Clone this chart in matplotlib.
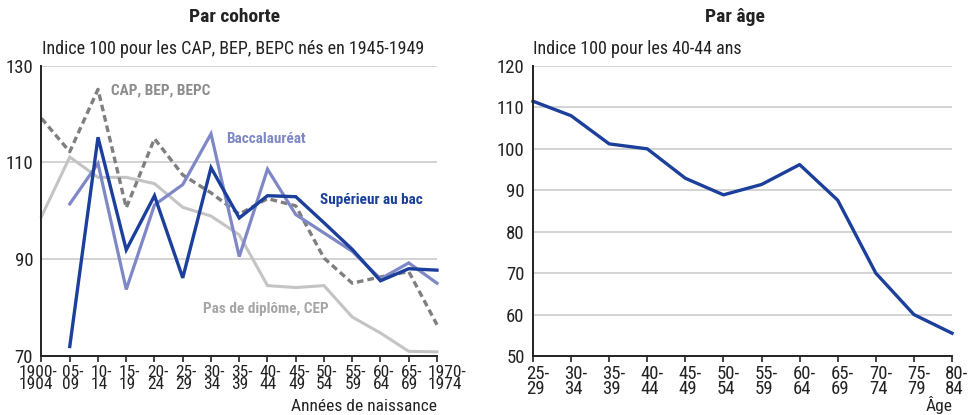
import matplotlib
matplotlib.use("Agg")
import matplotlib.pyplot as plt
from matplotlib import font_manager
import matplotlib.transforms as mtransforms

names = {f.name for f in font_manager.fontManager.ttflist}
FONT = "Liberation Sans"
for cand in ["Liberation Sans Narrow", "Arial Narrow", "Roboto Condensed", "PT Sans Narrow",
             "Archivo Narrow", "Pragati Narrow", "Barlow Semi Condensed", "Asap Condensed"]:
    if cand in names:
        FONT = cand
        break
plt.rcParams['font.family'] = [FONT, 'DejaVu Sans']

# ---------------- data ----------------
cohort_labels = ["1900-\n1904", "05-\n09", "10-\n14", "15-\n19", "20-\n24", "25-\n29",
                 "30-\n34", "35-\n39", "40-\n44", "45-\n49", "50-\n54", "55-\n59",
                 "60-\n64", "65-\n69", "1970-\n1974"]
cap_bep = [119.1, 112.2, 125.1, 100.6, 114.9, 107.4, 103.7, 99.3, 102.5, 101.0,
           90.2, 85.0, 86.3, 87.4, 76.4]
superieur = [None, 71.9, 115.2, 91.9, 103.1, 86.1, 108.9, 98.5, 103.1, 102.9,
             97.5, 92.0, 85.5, 88.0, 87.7]
bac = [None, 101.4, 109.8, 83.7, 101.2, 105.4, 115.9, 90.5, 108.6, 99.2,
       95.4, 91.6, 85.9, 89.2, 85.0]
sans_diplome = [98.8, 111.1, 106.9, 106.9, 105.6, 100.7, 98.9, 95.0, 84.5, 84.1,
                84.5, 78.0, 74.7, 70.9, 70.8]

age_labels = ["25-\n29", "30-\n34", "35-\n39", "40-\n44", "45-\n49", "50-\n54",
              "55-\n59", "60-\n64", "65-\n69", "70-\n74", "75-\n79", "80-\n84"]
age_values = [111.5, 108.0, 101.2, 100.0, 92.9, 88.9, 91.4, 96.2, 87.6, 70.0, 60.0, 55.5]

left_yticks = [70, 90, 110, 130]
right_yticks = [50, 60, 70, 80, 90, 100, 110, 120]

# ---------------- style ----------------
DARK_BLUE = "#1b3f9a"
PURPLE = "#7f88c6"
DASH_GRAY = "#7f7f7f"
LIGHT_GRAY = "#c4c4c4"
TXT = "#222222"
GRID = "#c8c8c8"

W, H = 970, 415
fig = plt.figure(figsize=(W / 100, H / 100), dpi=100)

def frac_box(x0, x1, ytop, ybot):
    return [x0 / W, 1 - ybot / H, (x1 - x0) / W, (ybot - ytop) / H]

axL = fig.add_axes(frac_box(41.5, 437, 65.7, 355.7))
axR = fig.add_axes(frac_box(533, 952, 66, 356))

def style(ax, yticks, xlabels, offsets, fs):
    ax.set_yticks(yticks)
    ax.set_ylim(yticks[0], yticks[-1])
    ax.set_xlim(0, len(xlabels) - 1)
    ax.set_xticks(range(len(xlabels)))
    ax.set_xticklabels([""] * len(xlabels))
    base = mtransforms.blended_transform_factory(ax.transData, ax.transAxes)
    for i, (lab, dx) in enumerate(zip(xlabels, offsets)):
        off = mtransforms.ScaledTranslation(dx / 100, -9 / 100, fig.dpi_scale_trans)
        ax.text(i, 0, lab, transform=base + off, ha='center', va='top',
                multialignment='left', fontsize=fs, color=TXT, linespacing=0.8)
    ax.tick_params(axis='x', direction='out', length=4, width=1.2, color=TXT, pad=2)
    ax.tick_params(axis='y', length=0, labelsize=13.5, labelcolor=TXT, pad=6)
    for s in ['top', 'right']:
        ax.spines[s].set_visible(False)
    for s in ['left', 'bottom']:
        ax.spines[s].set_color(TXT)
        ax.spines[s].set_linewidth(1.4)
        ax.spines[s].set_zorder(5)
    ax.grid(axis='y', color=GRID, linewidth=1.1)
    ax.set_axisbelow(True)
    ax.patch.set_alpha(0)

x = list(range(len(cohort_labels)))

def seg(vals):
    xs = [i for i, v in zip(x, vals) if v is not None]
    ys = [v for v in vals if v is not None]
    return xs, ys

axL.plot(*seg(sans_diplome), color=LIGHT_GRAY, lw=2.2, solid_joinstyle='miter', zorder=2, clip_on=False)
axL.plot(*seg(cap_bep), color=DASH_GRAY, lw=2.4, linestyle=(0, (2.0, 1.2)), zorder=3, clip_on=False)
axL.plot(*seg(bac), color=PURPLE, lw=2.3, solid_joinstyle='miter', zorder=4, clip_on=False)
axL.plot(*seg(superieur), color=DARK_BLUE, lw=2.4, solid_joinstyle='miter', zorder=5, clip_on=False)

left_offsets = [-3] + [3] * 13 + [10]
style(axL, left_yticks, cohort_labels, left_offsets, 12.5)

axR.plot(range(len(age_labels)), age_values, color=DARK_BLUE, lw=2.4, zorder=4, clip_on=False)
style(axR, right_yticks, age_labels, [5] * 12, 13.5)

# in-chart labels (pixel coordinates converted to figure fraction)
def ftext(px, py, s, **kw):
    fig.text(px / W, 1 - py / H, s, **kw)

ftext(111, 91, "CAP, BEP, BEPC", color="#8c8c8c", fontsize=11, fontweight='bold', va='center')
ftext(226, 139, "Baccalauréat", color=PURPLE, fontsize=11, fontweight='bold', va='center')
ftext(320, 200, "Supérieur au bac", color=DARK_BLUE, fontsize=11, fontweight='bold', va='center')
ftext(203, 309, "Pas de diplôme, CEP", color="#a6a6a6", fontsize=11, fontweight='bold', va='center')

# titles
ftext(235, 17, "Par cohorte", color=TXT, fontsize=14, fontweight='bold', ha='center', va='center')
ftext(735, 17, "Par âge", color=TXT, fontsize=14, fontweight='bold', ha='center', va='center')
ftext(42, 49, "Indice 100 pour les CAP, BEP, BEPC nés en 1945-1949", color=TXT, fontsize=13, va='center')
ftext(533, 49, "Indice 100 pour les 40-44 ans", color=TXT, fontsize=13, va='center')

# axis captions
ftext(437, 406, "Années de naissance", color=TXT, fontsize=12.5, ha='right', va='center')
ftext(953, 405, "Âge", color=TXT, fontsize=12.5, ha='right', va='center')

fig.savefig("out.png", dpi=100)
